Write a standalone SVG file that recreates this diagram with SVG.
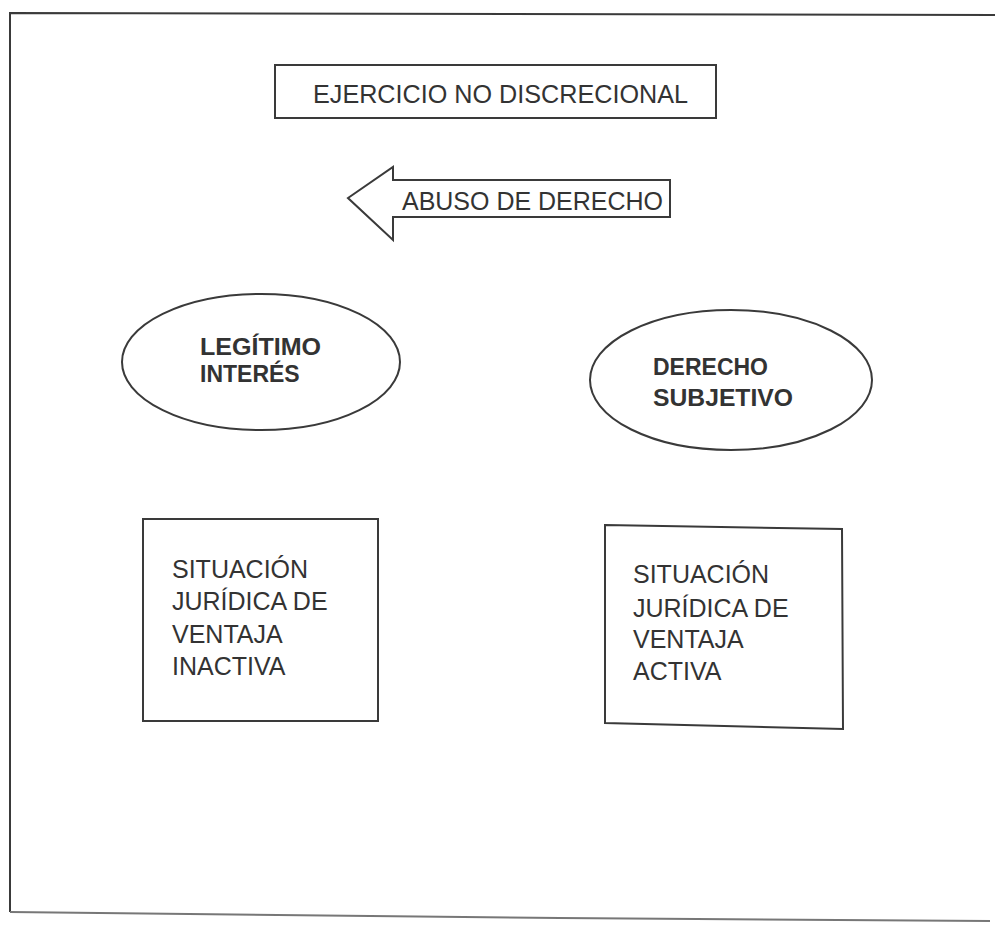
<svg xmlns="http://www.w3.org/2000/svg" width="995" height="926" viewBox="0 0 995 926">
<style>
.ln{fill:none;stroke:#3a3a3a;stroke-width:2}
.nd{fill:#fff;stroke:#3a3a3a;stroke-width:2}
.t{font-family:"Liberation Sans",Arial,sans-serif;fill:#333;font-size:25px}
.b{font-weight:bold;font-size:23px}
</style>
<rect width="995" height="926" fill="#fff"/>
<g id="frame">
<path class="ln" d="M995,15 L10,13 L10,912"/>
<path d="M10,912 L560,918 L990,921" fill="none" stroke="#777" stroke-width="2"/>
</g>
<g id="ejercicio">
<rect class="nd" x="275" y="65" width="441" height="53"/>
<text class="t" x="313" y="103" textLength="375" lengthAdjust="spacingAndGlyphs" font-size="27">EJERCICIO NO DISCRECIONAL</text>
</g>
<g id="abuso">
<path class="nd" d="M348,198 L393,167 L393,180 L670,180 L670,217 L393,217 L393,240 Z"/>
<text class="t" x="402" y="210" textLength="261" lengthAdjust="spacingAndGlyphs" font-size="25">ABUSO DE DERECHO</text>
</g>
<g id="legitimo">
<ellipse class="nd" cx="261" cy="362" rx="139" ry="68"/>
<text class="t b" x="200" y="355" textLength="121" lengthAdjust="spacingAndGlyphs">LEGÍTIMO</text>
<text class="t b" x="200" y="382">INTERÉS</text>
</g>
<g id="derecho">
<ellipse class="nd" cx="731" cy="380" rx="141" ry="70"/>
<text class="t b" x="653" y="375">DERECHO</text>
<text class="t b" x="653" y="406" textLength="140" lengthAdjust="spacingAndGlyphs">SUBJETIVO</text>
</g>
<g id="inactiva">
<rect class="nd" x="143" y="519" width="235" height="202"/>
<text class="t" x="172" y="578">SITUACIÓN</text>
<text class="t" x="172" y="610">JURÍDICA DE</text>
<text class="t" x="172" y="643">VENTAJA</text>
<text class="t" x="172" y="675">INACTIVA</text>
</g>
<g id="activa">
<polygon class="nd" points="605,525 842,529 843,729 605,723"/>
<text class="t" x="633" y="583">SITUACIÓN</text>
<text class="t" x="633" y="617">JURÍDICA DE</text>
<text class="t" x="633" y="648">VENTAJA</text>
<text class="t" x="633" y="680">ACTIVA</text>
</g>
<g id="connectors"></g>
</svg>
